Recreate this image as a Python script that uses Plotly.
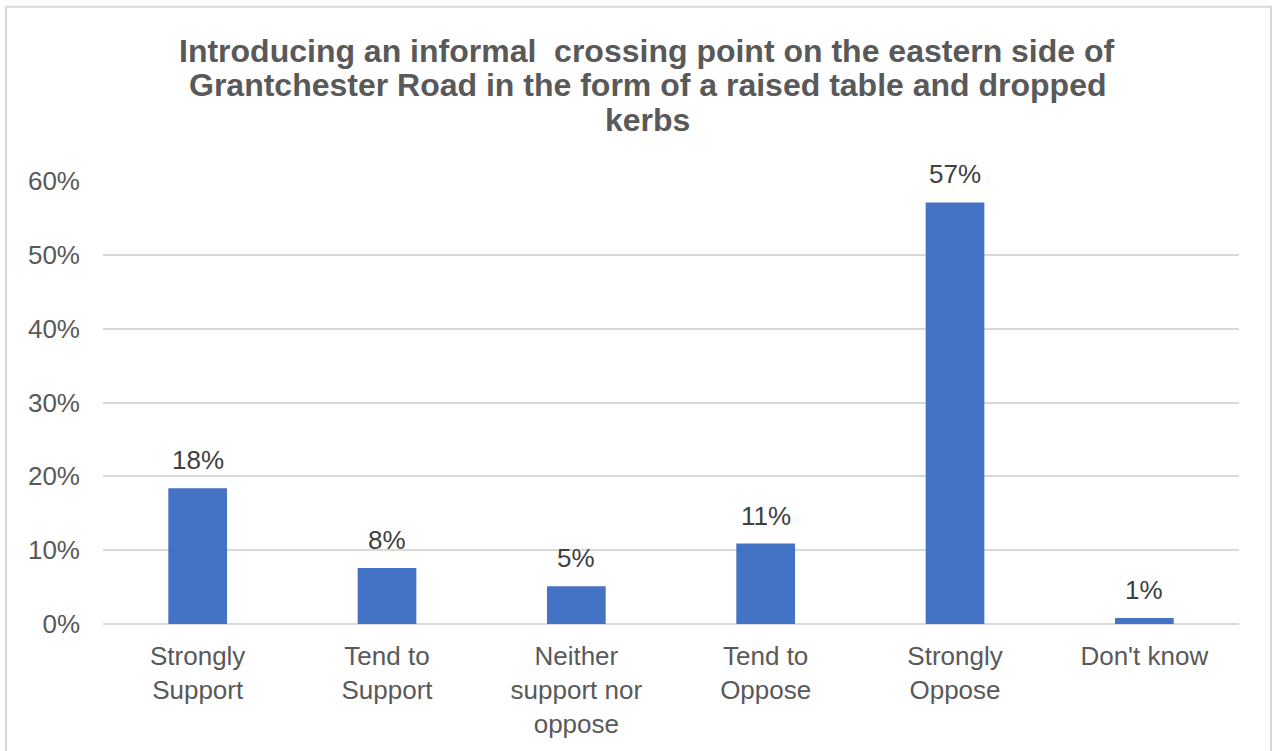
import plotly.graph_objects as go

categories = ["Strongly<br>Support", "Tend to<br>Support", "Neither<br>support nor<br>oppose",
              "Tend to<br>Oppose", "Strongly<br>Oppose", "Don't know"]
shares = [0.184, 0.076, 0.051, 0.109, 0.571, 0.008]
tick_values = [0, 0.1, 0.2, 0.3, 0.4, 0.5, 0.6]

title_lines = ["Introducing an informal  crossing point on the eastern side of",
               "Grantchester Road in the form of a raised table and dropped",
               "kerbs"]

FONT = "Liberation Sans, Arial, sans-serif"
W, H = 1274, 751
L, R, T, B = 103, 35, 181, 125

fig = go.Figure(go.Bar(
    x=categories,
    y=shares,
    marker=dict(color="#4472C4", line=dict(width=0)),
    hoverinfo="skip",
))

# value labels above each bar
for cat, val in zip(categories, shares):
    fig.add_annotation(x=cat, y=val, text=f"{val:.0%}", showarrow=False,
                       xanchor="center", yanchor="bottom", yshift=11,
                       font=dict(family=FONT, size=26, color="#404040"))

pw = W - L - R
ph = H - T - B

# title, one line per annotation for tight line spacing
for i, line in enumerate(title_lines):
    fig.add_annotation(xref="paper", yref="paper",
                       x=(647 - L) / pw, y=(H - B - (50 + 35 * i)) / ph,
                       text=f"<b>{line}</b>", showarrow=False,
                       xanchor="center", yanchor="middle",
                       font=dict(family=FONT, size=32, color="#595959"))

# chart-area border
fig.add_shape(type="rect", xref="paper", yref="paper",
              x0=(6 - L) / pw, x1=(W - 3 - L) / pw,
              y0=(H - B - (H + 10)) / ph, y1=(H - B - 6) / ph,
              line=dict(color="#d9d9d9", width=2), fillcolor="rgba(0,0,0,0)", layer="below")

fig.update_layout(
    width=W, height=H,
    margin=dict(l=L, r=R, t=T, b=B),
    paper_bgcolor="white", plot_bgcolor="white",
    bargap=0.69,
    showlegend=False,
    font=dict(family=FONT, color="#595959"),
)

fig.update_yaxes(range=[0, 0.6], tickvals=tick_values, tickformat=".0%",
                 showgrid=True, gridcolor="#d9d9d9", gridwidth=2,
                 zeroline=True, zerolinecolor="#d9d9d9", zerolinewidth=2,
                 showline=False, ticks="", ticklabelstandoff=22,
                 tickfont=dict(family=FONT, size=26, color="#595959"))
fig.update_xaxes(showline=False, ticks="", tickangle=0, ticklabelstandoff=14,
                 tickfont=dict(family=FONT, size=26, color="#595959"))

fig.write_html("out.html")
